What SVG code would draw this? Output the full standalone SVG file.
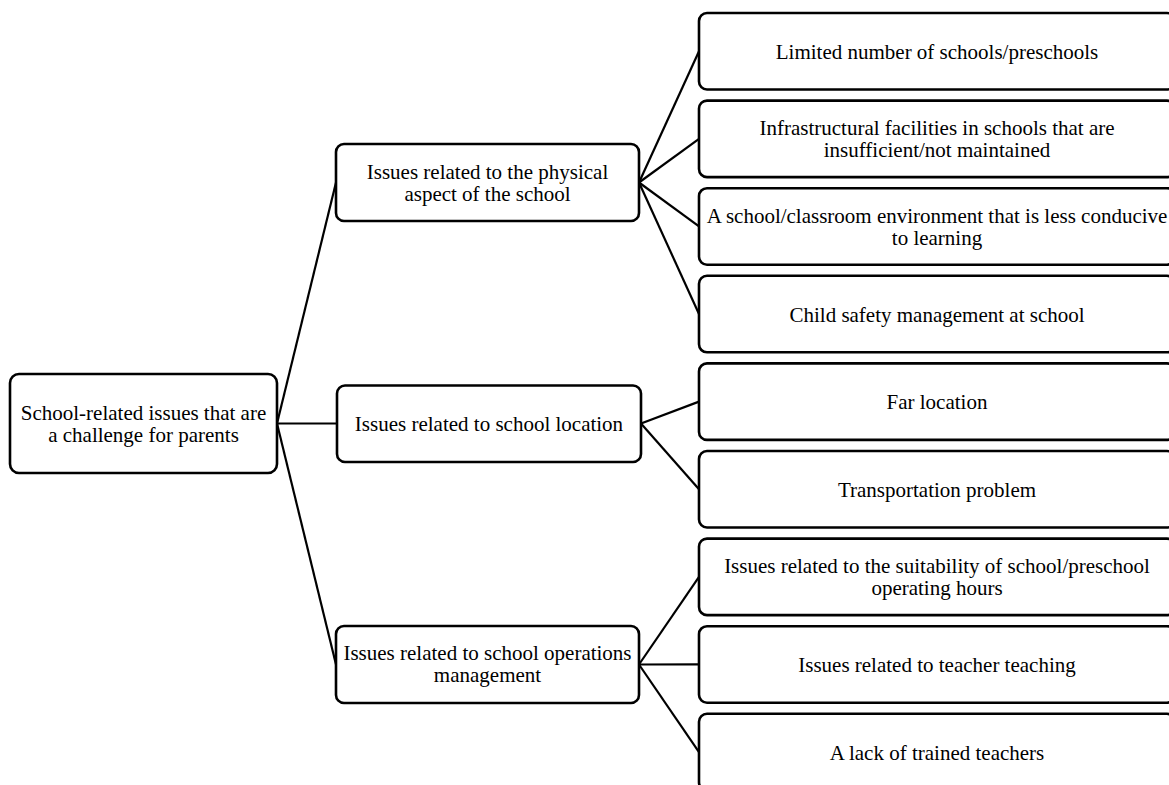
<svg xmlns="http://www.w3.org/2000/svg" width="1169" height="785" viewBox="0 0 1169 785">
<style>
.box{fill:#fff;stroke:#000;stroke-width:2.6}
.t{font-family:"Liberation Serif","Times New Roman",serif;font-size:21px;fill:#000;text-anchor:middle}
.c{stroke:#000;stroke-width:2.2;fill:none}
</style>
<rect width="1169" height="785" fill="#fff"/>
<g id="connectors">
<line class="c" x1="277" y1="423.5" x2="336" y2="182.5"/>
<line class="c" x1="277" y1="423.5" x2="337" y2="423.5"/>
<line class="c" x1="277" y1="423.5" x2="336" y2="664.5"/>
<line class="c" x1="639" y1="182.5" x2="699" y2="51.25"/>
<line class="c" x1="639" y1="182.5" x2="699" y2="138.85"/>
<line class="c" x1="639" y1="182.5" x2="699" y2="226.45"/>
<line class="c" x1="639" y1="182.5" x2="699" y2="314.05"/>
<line class="c" x1="641" y1="423.5" x2="699" y2="401.65"/>
<line class="c" x1="641" y1="423.5" x2="699" y2="489.25"/>
<line class="c" x1="639" y1="664.5" x2="699" y2="576.85"/>
<line class="c" x1="639" y1="664.5" x2="699" y2="664.45"/>
<line class="c" x1="639" y1="664.5" x2="699" y2="752.05"/>
</g>
<g id="root">
<rect class="box" x="10" y="374" width="267" height="99" rx="9"/>
<text class="t" x="143.5" y="420">School-related issues that are</text>
<text class="t" x="143.5" y="442">a challenge for parents</text>
</g>
<g id="physical">
<rect class="box" x="336" y="144" width="303" height="77" rx="8"/>
<text class="t" x="487.5" y="178.5">Issues related to the physical</text>
<text class="t" x="487.5" y="200.5">aspect of the school</text>
</g>
<g id="location">
<rect class="box" x="337" y="385.5" width="304" height="76.5" rx="8"/>
<text class="t" x="489" y="431">Issues related to school location</text>
</g>
<g id="operations">
<rect class="box" x="336" y="626" width="303" height="77" rx="8"/>
<text class="t" x="487.5" y="660">Issues related to school operations</text>
<text class="t" x="487.5" y="682">management</text>
</g>
<g id="limited">
<rect class="box" x="699" y="13" width="476" height="76.5" rx="8"/>
<text class="t" x="937" y="59">Limited number of schools/preschools</text>
</g>
<g id="infrastructure">
<rect class="box" x="699" y="100.6" width="476" height="76.5" rx="8"/>
<text class="t" x="937" y="135">Infrastructural facilities in schools that are</text>
<text class="t" x="937" y="157">insufficient/not maintained</text>
</g>
<g id="environment">
<rect class="box" x="699" y="188.2" width="476" height="76.5" rx="8"/>
<text class="t" x="937" y="222.5">A school/classroom environment that is less conducive</text>
<text class="t" x="937" y="244.5">to learning</text>
</g>
<g id="safety">
<rect class="box" x="699" y="275.8" width="476" height="76.5" rx="8"/>
<text class="t" x="937" y="321.5">Child safety management at school</text>
</g>
<g id="far">
<rect class="box" x="699" y="363.4" width="476" height="76.5" rx="8"/>
<text class="t" x="937" y="409">Far location</text>
</g>
<g id="transport">
<rect class="box" x="699" y="451" width="476" height="76.5" rx="8"/>
<text class="t" x="937" y="497">Transportation problem</text>
</g>
<g id="hours">
<rect class="box" x="699" y="538.6" width="476" height="76.5" rx="8"/>
<text class="t" x="937" y="573">Issues related to the suitability of school/preschool</text>
<text class="t" x="937" y="595">operating hours</text>
</g>
<g id="teaching">
<rect class="box" x="699" y="626.2" width="476" height="76.5" rx="8"/>
<text class="t" x="937" y="672">Issues related to teacher teaching</text>
</g>
<g id="trained">
<rect class="box" x="699" y="713.8" width="476" height="76.5" rx="8"/>
<text class="t" x="937" y="759.5">A lack of trained teachers</text>
</g>
</svg>
